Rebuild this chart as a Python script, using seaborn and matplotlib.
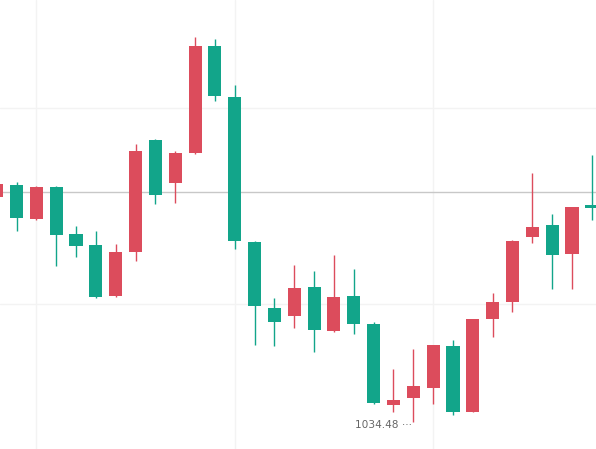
import matplotlib
matplotlib.use("Agg")
import matplotlib.pyplot as plt
import seaborn as sns
import pandas as pd

# OHLC data (candles left to right)
opens = [1045.96, 1046.57, 1044.83, 1046.47, 1044.07, 1043.51, 1040.91, 1043.15, 1048.86, 1046.67,
         1048.20, 1053.66, 1051.06, 1043.66, 1040.29, 1039.89, 1041.37, 1039.12, 1040.91, 1039.48,
         1035.35, 1035.70, 1036.21, 1038.36, 1034.99, 1039.73, 1040.60, 1043.92, 1044.53, 1043.05,
         1045.55]
highs = [1046.72, 1046.72, 1046.52, 1046.52, 1044.48, 1044.22, 1043.56, 1048.66, 1048.91, 1048.30,
         1054.12, 1054.01, 1051.67, 1043.71, 1040.80, 1042.49, 1042.18, 1043.00, 1042.28, 1039.58,
         1037.18, 1038.20, 1038.41, 1038.66, 1039.73, 1041.06, 1043.76, 1047.18, 1045.09, 1045.45,
         1048.10]
lows = [1045.85, 1044.22, 1044.78, 1042.44, 1042.90, 1040.80, 1040.86, 1042.69, 1045.60, 1045.65,
        1048.15, 1050.85, 1043.30, 1038.41, 1038.36, 1039.27, 1038.05, 1039.07, 1038.97, 1035.40,
        1034.99, 1034.48, 1035.40, 1034.84, 1034.99, 1038.82, 1040.09, 1043.61, 1041.26, 1041.26,
        1044.78]
closes = [1046.62, 1044.88, 1046.47, 1044.02, 1043.46, 1040.86, 1043.15, 1048.30, 1046.06, 1048.20,
          1053.66, 1051.11, 1043.71, 1040.40, 1039.58, 1041.31, 1039.17, 1040.86, 1039.48, 1035.45,
          1035.60, 1036.32, 1038.41, 1034.99, 1039.73, 1040.60, 1043.71, 1044.43, 1043.00, 1045.45,
          1045.39]
ref_price = 1046.21
grid_prices = [1040.5, 1050.5]
grid_idx = [2, 12, 22]
low_label = "1034.48"

UP = "#DC4C5C"    # red = rise
DOWN = "#12A58A"  # green = fall

df = pd.DataFrame({"i": range(len(opens)), "open": opens, "high": highs,
                   "low": lows, "close": closes})
df["up"] = df["close"] >= df["open"]
df["bottom"] = df[["open", "close"]].min(axis=1)
df["height"] = (df["close"] - df["open"]).abs().clip(lower=0.08)
df["color"] = df["up"].map({True: UP, False: DOWN})

sns.set_theme(style="white")
fig = plt.figure(figsize=(5.96, 4.49), dpi=100)
ax = fig.add_axes([0, 0, 1, 1])

for g in grid_prices:
    ax.axhline(g, color="#f3f3f3", lw=1, zorder=0)
for gi in grid_idx:
    ax.axvline(gi, color="#f3f3f3", lw=1, zorder=0)
ax.axhline(ref_price, color="#c8c8c8", lw=1, zorder=1)

ax.vlines(df["i"], df["low"], df["high"], colors=df["color"], lw=1.0, zorder=2)
ax.bar(df["i"], df["height"], bottom=df["bottom"], width=0.66,
       color=df["color"], edgecolor="none", zorder=3)

imin = int(df["low"].idxmin())
ax.annotate(low_label + " \u00b7\u00b7\u00b7", xy=(imin - 0.05, df["low"][imin]),
            xytext=(0, -2.5), textcoords="offset points", ha="right", va="center",
            fontsize=7.6, color="#666666", zorder=4)

ax.set_xlim(0.168, 30.21)
ax.set_ylim(1033.10, 1056.00)
ax.set_axis_off()
fig.savefig("out.png", dpi=100, facecolor="white")
